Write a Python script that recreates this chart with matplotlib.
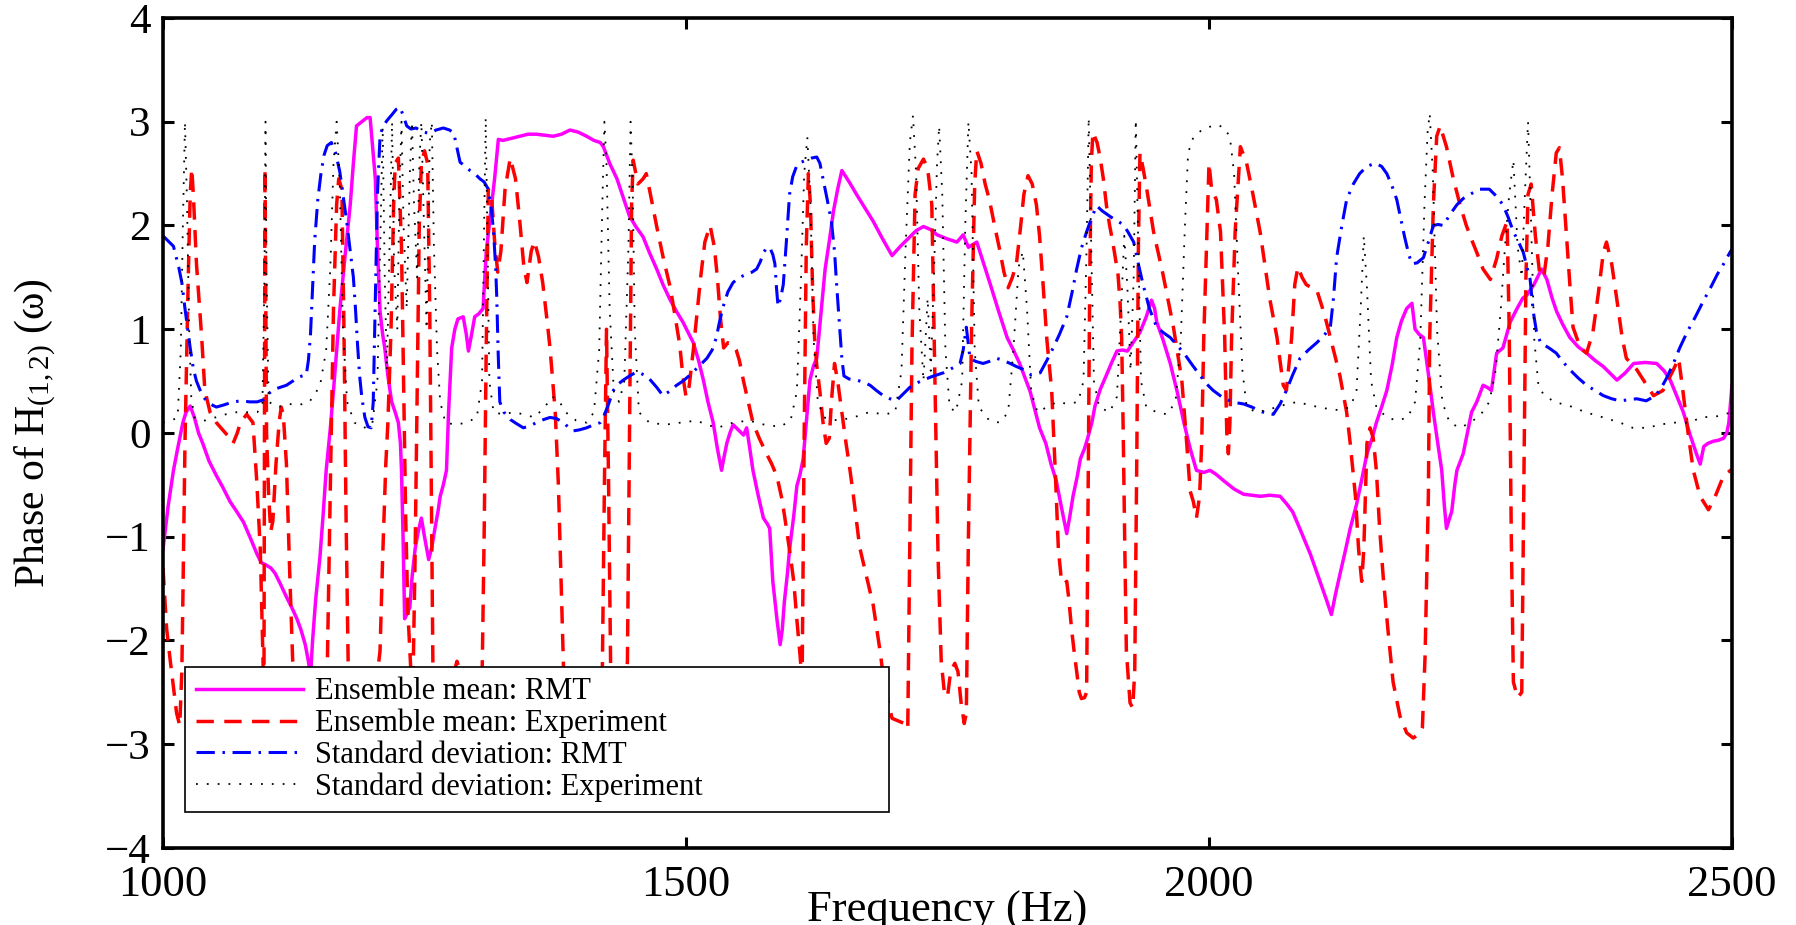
import matplotlib
matplotlib.use("Agg")
import matplotlib.pyplot as plt

# ---------------- data ----------------
mean_rmt_f = [1000,1005,1010,1014,1019,1022,1026,1030,1034,1038,1044,1051,1057,1064,1070,1077,1083,1090,1094,1098,1103,1107,1112,1118,1123,1128,1132,1136,1139,1141,1143,1146,1150,1153,1156,1160,1163,1166,1169,1174,1179,1182,1185,1190,1195,1198,1200,1203,1205,1207.5,1210,1212,1215,1218.6,1222,1225,1227,1228,1229.5,1231,1233,1236,1238,1241,1244,1247,1250,1254,1257,1260,1263,1265,1268,1271,1273,1276,1279,1282,1287,1290,1292,1295,1298,1302,1306,1309,1313,1317,1320.6,1325,1333,1341,1349,1357,1365,1373,1381,1389,1397,1405,1412,1418,1421,1427,1434,1440,1446,1452,1459,1465,1472,1478,1485,1491,1497,1502,1507,1512,1516.6,1521,1526,1530,1534,1536,1539,1542,1545,1550,1555,1558,1561,1564,1569,1574,1578,1580,1583,1587,1590,1592,1594,1597,1599,1603,1606,1609,1612,1615,1618.5,1622,1625,1629,1633,1637,1641,1645,1649,1656,1663,1671,1679,1688,1697,1705,1714,1720,1727,1734,1740,1750,1759,1765,1770,1778,1784,1791,1799,1807,1813,1819,1829,1838,1844,1849,1854,1859,1864,1867,1870,1874,1877,1881,1884,1888,1891,1896,1902,1907,1912,1917,1922,1928,1934,1940,1945,1948,1950,1956,1963,1970,1976,1982,1988,1995,2001,2007,2014,2024,2033,2041,2049,2058,2068,2074,2080,2088,2097,2105,2112,2117,2121,2125,2130,2135,2141,2146,2151,2156,2160,2165,2170,2175,2179.5,2184,2189,2194,2197,2201,2205,2210,2214.5,2218,2222.5,2225,2227,2230,2232,2235,2237,2243,2247,2251,2256,2262,2266,2270,2275,2281,2288,2294.5,2300,2304,2310.6,2318,2323,2328,2332.4,2338,2345,2353,2361,2369,2377,2384,2390,2398,2406,2417,2428,2435,2441,2447,2453.5,2460,2466,2469.6,2473,2477,2482,2487,2492,2495,2497,2500]
mean_rmt_v = [-1.12,-0.7,-0.36,-0.15,0.1,0.2,0.26,0.15,0.0,-0.1,-0.27,-0.41,-0.52,-0.66,-0.75,-0.86,-1.0,-1.17,-1.25,-1.27,-1.3,-1.35,-1.45,-1.58,-1.68,-1.79,-1.9,-2.04,-2.2,-2.35,-2.0,-1.6,-1.2,-0.8,-0.36,0.05,0.41,0.8,1.18,1.7,2.2,2.6,2.96,3.0,3.04,3.04,2.8,2.45,1.8,1.17,0.95,0.82,0.55,0.3,0.2,0.1,-0.1,-0.36,-1.0,-1.79,-1.75,-1.68,-1.4,-1.12,-0.95,-0.82,-1.0,-1.22,-1.1,-0.92,-0.75,-0.61,-0.5,-0.36,0.2,0.82,1.0,1.1,1.12,0.95,0.79,0.95,1.12,1.15,1.2,1.74,2.1,2.45,2.83,2.82,2.84,2.86,2.88,2.88,2.87,2.86,2.88,2.92,2.9,2.86,2.82,2.8,2.76,2.6,2.45,2.27,2.09,1.99,1.89,1.74,1.58,1.43,1.28,1.17,1.07,0.97,0.87,0.7,0.51,0.3,0.1,-0.15,-0.36,-0.25,-0.1,0.0,0.08,0.03,-0.02,0.05,-0.15,-0.36,-0.6,-0.82,-0.88,-0.92,-1.43,-1.8,-2.04,-1.9,-1.63,-1.35,-1.12,-0.8,-0.51,-0.4,-0.25,0.1,0.51,0.65,0.72,1.15,1.58,1.85,2.14,2.35,2.53,2.42,2.3,2.17,2.04,1.87,1.71,1.8,1.89,1.95,1.99,1.96,1.91,1.87,1.84,1.91,1.79,1.84,1.65,1.43,1.17,0.92,0.8,0.67,0.4,0.05,-0.1,-0.3,-0.46,-0.72,-0.97,-0.8,-0.61,-0.42,-0.25,-0.15,-0.05,0.1,0.26,0.42,0.56,0.68,0.79,0.8,0.79,0.88,0.97,1.12,1.28,1.2,1.07,0.9,0.67,0.38,0.1,-0.15,-0.36,-0.38,-0.36,-0.4,-0.46,-0.54,-0.59,-0.6,-0.61,-0.6,-0.61,-0.68,-0.76,-0.95,-1.17,-1.4,-1.6,-1.75,-1.55,-1.37,-1.15,-0.92,-0.69,-0.45,-0.2,-0.05,0.1,0.25,0.41,0.65,0.92,1.08,1.2,1.25,1.0,0.95,0.92,0.55,0.2,-0.05,-0.36,-0.7,-0.92,-0.82,-0.76,-0.5,-0.36,-0.2,0.0,0.2,0.3,0.46,0.44,0.41,0.77,0.82,1.07,1.2,1.3,1.33,1.43,1.58,1.48,1.3,1.17,1.05,0.92,0.83,0.77,0.7,0.64,0.57,0.51,0.58,0.67,0.68,0.67,0.6,0.51,0.36,0.2,-0.02,-0.2,-0.3,-0.13,-0.1,-0.08,-0.07,-0.05,0.0,0.1,0.46]

mean_exp_f = [1000,1003.5,1007,1010,1013,1016,1018,1019,1021,1024,1026,1027.5,1029,1032,1035,1037,1040,1045,1051,1058,1064,1067,1071,1074,1080,1086,1089.6,1093,1095.5,1096.5,1097.5,1099,1101,1103,1105,1108,1111,1113,1115,1118,1121,1124,1128,1135,1145,1153,1157,1160,1163,1166,1168,1171,1173,1175,1177,1181,1190,1198,1204,1207.5,1210,1213,1215,1218,1220.5,1222,1225,1228,1230,1232,1234,1237,1239,1241,1243,1245,1247,1250,1253,1255,1256.5,1258,1262,1270,1276,1281,1286,1292,1300,1305,1307,1309,1311,1314,1317,1320,1323,1327,1332,1337,1341,1345,1348,1352,1355,1359,1363,1367,1370,1375,1378,1381,1383,1390,1400,1410,1417,1420,1422,1424,1426,1428,1434,1441,1444,1446,1448,1449.5,1454,1459,1462,1466,1472,1478,1485,1490,1494,1497,1500,1503,1507,1510,1514,1518,1523,1527,1530,1533,1536,1540,1544,1548,1551,1555,1560,1564,1570,1577,1582,1587,1592,1596,1600,1603,1606,1609,1611,1613,1615,1617,1619,1621,1623,1625,1628,1631,1634,1637,1639,1642,1645,1649,1653,1656,1660,1666,1673,1679,1685.5,1690,1697,1704,1709,1712,1714,1716,1719,1722,1727,1731,1735,1738,1741,1744,1747,1750,1753,1757,1760,1763,1766,1768,1770,1773,1776,1778,1782,1786,1790,1795,1800,1804,1808,1812,1816,1820,1823,1827,1831,1835,1838,1841.6,1845,1849.6,1853,1856,1859,1862,1864,1866,1868.6,1871,1873.5,1876,1878,1881,1883,1884.5,1886,1887.5,1889,1893,1896,1899,1902,1905,1908,1913,1915,1916.5,1918,1919.5,1921,1924.5,1927,1929,1931,1932.5,1934,1937,1940.5,1947,1956,1966,1974,1978.7,1982,1985,1988,1991,1993,1995,1998,2000,2002.5,2007,2011,2013,2015,2017,2018.5,2020,2021.6,2025,2030,2036,2042,2049,2058,2065,2071,2074,2079,2082,2085,2089,2093,2098,2103,2108,2112,2116,2125,2131.6,2135,2140,2143,2146,2148,2151,2154,2157,2160,2163,2166.5,2171,2176,2182.6,2189,2195.3,2202,2204,2206.6,2209.7,2211,2214.5,2217.7,2221,2227,2233.6,2240,2246,2252,2256,2262,2269,2275,2280,2285,2287,2289,2291,2295,2299,2301,2303,2305,2308,2312,2316,2320,2324,2328,2332,2335,2338,2341.5,2345,2348,2355,2361,2367,2372,2377,2380,2385,2390,2395,2399,2409,2418.5,2425,2434,2444,2449,2453,2458,2463,2469.5,2477.5,2484,2492,2500]
mean_exp_v = [-1.3,-1.89,-2.2,-2.45,-2.7,-2.82,-2.3,-1.6,-0.1,1.43,2.3,2.55,2.3,1.63,1.2,0.92,0.41,0.2,0.1,0.02,-0.05,-0.1,0.0,0.1,0.18,0.1,-0.46,-1.12,-2.14,-2.6,2.55,0.0,-0.6,-0.95,-0.85,-0.3,0.1,0.25,0.18,-0.3,-1.3,-2.2,-2.8,-3.0,-2.9,-2.7,-2.3,-0.5,1.2,2.2,2.45,2.35,1.0,-0.8,-2.2,-2.7,-2.9,-2.7,-2.4,-2.1,-1.2,-0.3,0.1,1.0,2.2,2.6,2.65,1.8,0.5,-0.8,-1.7,-2.3,-2.4,-1.2,0.4,2.0,2.6,2.72,2.6,1.2,-0.5,-2.2,-2.7,-2.6,-2.4,-2.2,-2.35,-2.7,-2.7,-2.4,-1.0,0.8,2.35,2.3,1.85,1.55,1.75,2.35,2.65,2.45,2.05,1.6,1.45,1.75,1.85,1.7,1.45,1.1,0.82,0.2,-0.5,-1.6,-2.3,-2.9,-3.05,-2.95,-2.6,-2.3,-0.5,1.0,-0.5,-2.3,-2.8,-2.6,-2.2,0.0,2.2,2.63,2.4,2.45,2.5,2.3,1.99,1.7,1.4,1.1,0.85,0.55,0.35,0.45,0.8,1.1,1.5,1.84,2.0,1.8,1.5,1.1,0.82,0.87,0.86,0.8,0.7,0.5,0.28,0.1,-0.05,-0.2,-0.3,-0.42,-0.65,-0.92,-1.2,-1.43,-1.8,-2.14,-2.4,0.0,1.8,2.5,2.2,1.4,0.9,0.65,0.4,0.1,-0.1,-0.05,0.3,0.67,0.5,0.2,-0.1,-0.3,-0.6,-1.1,-1.4,-1.66,-2.1,-2.45,-2.75,-2.78,-2.8,-2.85,-1.0,0.8,2.3,2.55,2.64,2.55,2.2,0.5,-1.2,-2.2,-2.5,-2.54,-2.3,-2.22,-2.3,-2.6,-2.8,-2.7,-1.0,1.0,2.4,2.72,2.6,2.4,2.25,2.0,1.76,1.55,1.4,1.5,1.64,2.0,2.3,2.48,2.4,2.2,1.9,1.4,0.9,0.41,-0.36,-1.12,-1.43,-1.45,-1.43,-1.6,-1.89,-2.1,-2.3,-2.5,-2.56,-2.55,-2.5,-0.5,1.5,2.6,2.9,2.8,2.65,2.45,2.19,2.0,1.84,1.53,1.25,0.92,0.0,-1.1,-2.1,-2.6,-2.65,-2.3,-0.2,1.8,2.7,2.55,2.35,1.94,1.53,1.02,0.51,-0.1,-0.56,-0.66,-0.82,-0.61,-0.1,0.92,1.94,2.6,2.35,2.25,1.94,1.43,0.92,0.0,-0.2,0.1,0.92,1.94,2.76,2.6,2.3,1.93,1.3,0.92,0.46,0.41,0.92,1.43,1.6,1.5,1.43,1.4,1.38,1.22,1.08,0.92,0.56,0.2,-0.1,-0.61,-1.12,-1.43,-1.12,-0.1,0.05,-0.05,-0.36,-0.9,-1.38,-1.89,-2.4,-2.73,-2.89,-2.94,-2.89,-2.84,-2.14,-0.61,0.92,2.2,2.86,2.96,2.76,2.45,2.2,2.0,1.84,1.74,1.58,1.48,1.68,1.9,2.04,1.0,-1.0,-2.4,-2.55,-2.5,-0.5,1.5,2.3,2.4,1.9,1.55,1.5,1.8,2.3,2.7,2.75,2.45,1.94,1.43,1.02,0.82,0.77,0.97,1.33,1.74,1.84,1.63,1.28,0.92,0.72,0.61,0.46,0.36,0.41,0.61,0.72,0.41,0.0,-0.36,-0.61,-0.74,-0.61,-0.41,-0.35]

std_rmt_f = [1000,1005,1010,1015,1018,1021,1023,1026,1029,1032,1036,1040,1045,1051,1058,1067,1075,1083,1090,1096,1101,1106,1112,1118,1124,1128,1133,1137,1139,1141,1143,1145,1148,1151,1154,1157,1161,1165,1169,1172,1175.6,1179,1182,1184,1186,1188,1190,1193,1196,1199,1201,1203,1205,1207.5,1210,1214,1219,1223,1226.6,1230,1233,1237,1242,1248,1255,1261,1268,1274,1278,1281,1284,1289,1293.5,1298,1303,1307,1311,1314,1316,1318,1319,1320.5,1322,1326,1332,1338,1344.5,1351,1357,1364,1370,1376,1383,1388,1392,1398,1405,1412,1418,1421,1426,1430.5,1435,1440,1446,1453,1460,1466,1472,1478,1484,1491,1497,1504,1512,1520,1525,1529,1532,1535.6,1540,1545,1551,1558,1563,1567.5,1571,1574,1577,1580,1583,1585,1586.5,1588,1590.5,1593,1596,1599,1602,1606,1610,1615,1620,1625,1628,1631,1635,1639,1642,1644,1647,1649,1651,1656,1663,1670,1676,1682,1688.6,1695,1701,1707,1714,1720,1727,1734,1740,1746,1752,1757,1762,1765,1768,1770,1771.5,1777,1784,1790,1797,1803,1810,1816,1823,1830,1838.6,1845,1851,1857,1864,1869,1873.5,1878,1883,1888,1892.6,1898,1905,1911,1918,1923,1928,1932,1937,1943,1950,1956,1963,1970,1976,1983,1991,1997,2004,2012,2020,2027,2033,2041,2049,2055,2061.5,2068,2074,2080,2087,2095,2103,2110,2116,2119,2122,2127,2131.6,2138,2144,2151,2159,2165,2170,2175,2179.5,2183,2187,2191,2194,2199,2205,2210,2214.5,2219,2224,2230,2237,2243,2249.5,2255,2259,2268,2275,2281,2286,2291,2296,2300.5,2304,2307,2310,2313,2317,2325,2332,2338,2345,2353,2361,2369,2377,2385,2393,2401,2409,2418,2425,2431,2437,2444,2450,2457,2465,2473,2480,2486,2492,2498,2500]
std_rmt_v = [1.9,1.85,1.8,1.6,1.45,1.2,1.05,0.82,0.62,0.5,0.4,0.33,0.28,0.25,0.27,0.3,0.31,0.3,0.3,0.32,0.38,0.42,0.44,0.46,0.5,0.53,0.55,0.56,0.7,0.95,1.4,1.85,2.25,2.5,2.68,2.77,2.8,2.7,2.52,2.3,2.04,1.75,1.5,1.2,0.85,0.55,0.35,0.15,0.06,0.05,0.3,1.3,2.3,2.86,2.95,3.01,3.07,3.12,3.14,3.05,2.96,2.93,2.94,2.9,2.89,2.92,2.94,2.92,2.89,2.75,2.61,2.57,2.53,2.5,2.45,2.42,2.35,2.15,1.94,1.6,1.33,0.75,0.3,0.2,0.13,0.09,0.05,0.07,0.1,0.13,0.15,0.14,0.1,0.05,0.02,0.03,0.05,0.08,0.1,0.15,0.28,0.41,0.47,0.51,0.55,0.59,0.56,0.51,0.44,0.36,0.4,0.46,0.5,0.56,0.64,0.72,0.8,0.92,1.07,1.22,1.36,1.45,1.5,1.53,1.55,1.58,1.65,1.74,1.78,1.79,1.72,1.63,1.4,1.22,1.3,1.43,1.85,2.3,2.47,2.58,2.61,2.63,2.65,2.66,2.6,2.45,2.25,2.04,1.75,1.43,1.0,0.72,0.55,0.52,0.51,0.49,0.46,0.41,0.36,0.33,0.31,0.37,0.44,0.48,0.51,0.54,0.56,0.58,0.61,0.64,0.67,0.8,1.02,0.85,0.72,0.69,0.67,0.69,0.72,0.7,0.67,0.64,0.61,0.56,0.58,0.7,0.82,0.95,1.12,1.35,1.58,1.78,1.94,2.08,2.19,2.14,2.09,2.05,2.01,1.93,1.84,1.65,1.43,1.2,1.02,0.97,0.92,0.84,0.77,0.67,0.56,0.48,0.41,0.35,0.31,0.29,0.28,0.25,0.21,0.19,0.18,0.28,0.41,0.56,0.72,0.8,0.87,0.94,1.02,1.3,1.69,2.0,2.25,2.4,2.5,2.57,2.6,2.57,2.5,2.38,2.25,2.08,1.89,1.72,1.63,1.64,1.69,1.85,2.0,2.01,2.0,2.1,2.2,2.26,2.3,2.33,2.35,2.35,2.28,2.2,2.08,1.94,1.84,1.74,1.6,1.48,1.17,0.98,0.87,0.82,0.77,0.69,0.61,0.53,0.46,0.41,0.36,0.33,0.31,0.32,0.33,0.31,0.35,0.41,0.52,0.67,0.82,0.97,1.12,1.28,1.41,1.53,1.63,1.74,1.77]

std_exp_f = [1000,1008,1014,1017,1019,1021,1023,1025,1027,1030,1040,1050,1060,1070,1080,1090,1095,1097,1098,1099,1101,1110,1120,1130,1140,1150,1156,1160,1163,1166,1169,1172,1176,1183,1192,1200,1205,1208,1210,1212,1214,1217,1219,1221,1224,1226,1228,1230,1233,1236,1238,1240,1243,1245,1247,1249,1252,1255,1257,1259,1262,1265,1270,1280,1290,1300,1305,1307,1308.5,1310,1312,1316,1325,1335,1345,1355,1365,1372,1378,1385,1395,1405,1412,1417,1420,1422,1424,1427,1431,1436,1441,1445,1447,1449,1451,1455,1465,1480,1495,1510,1520,1530,1545,1560,1575,1590,1600,1606,1610,1613,1616,1619,1622,1626,1632,1645,1660,1675,1690,1700,1706,1710,1714,1717,1720,1723,1727,1731,1734,1737,1740,1742,1745,1748,1752,1758,1764,1767,1770,1773,1776,1780,1790,1800,1808,1813,1818,1822,1826,1830,1836,1845,1855,1865,1875,1880,1883,1885,1887,1890,1895,1905,1912,1916,1919,1922,1925,1928,1930,1932,1935,1940,1950,1960,1968,1973,1977,1980,1985,1993,2000,2008,2015,2020,2024,2028,2032,2036,2045,2055,2065,2075,2085,2095,2105,2115,2125,2135,2141,2145,2148,2151,2155,2160,2170,2180,2190,2197,2202,2206,2209,2211,2214,2218,2223,2230,2240,2250,2260,2268,2274,2279,2283,2287,2291,2295,2299,2302,2305,2308,2311,2315,2320,2330,2345,2360,2377,2393,2405,2420,2430,2445,2460,2470,2485,2500]
std_exp_v = [0.1,0.12,0.15,0.8,2.0,3.0,2.2,1.0,0.35,0.15,0.12,0.15,0.18,0.2,0.2,0.2,0.25,1.5,3.0,1.5,0.3,0.25,0.28,0.27,0.3,0.45,0.8,1.6,2.6,3.0,2.4,1.0,0.3,0.1,0.05,0.08,0.5,2.0,2.95,1.5,0.6,2.0,3.0,1.6,1.0,2.3,3.0,2.0,1.2,2.5,3.0,2.2,1.5,2.6,3.0,2.2,1.0,2.8,3.0,1.8,0.8,0.3,0.1,0.08,0.1,0.15,0.5,2.0,3.04,2.0,0.5,0.2,0.18,0.2,0.18,0.15,0.25,0.35,0.32,0.2,0.12,0.1,0.2,0.8,2.2,3.0,2.6,1.2,0.4,0.3,0.5,1.8,3.0,2.4,1.0,0.2,0.1,0.08,0.1,0.12,0.08,0.05,0.1,0.12,0.08,0.06,0.12,0.4,1.5,2.5,2.85,2.2,0.9,0.3,0.15,0.12,0.15,0.2,0.18,0.2,0.6,1.8,2.8,3.06,2.5,1.2,0.5,1.3,0.6,1.5,2.6,2.96,2.3,0.8,0.25,0.2,0.5,2.0,3.0,2.5,0.8,0.25,0.12,0.1,0.2,0.8,1.6,1.75,1.2,0.4,0.2,0.25,0.3,0.28,0.3,0.5,1.8,3.04,2.0,0.5,0.25,0.2,0.35,1.2,1.9,1.4,0.6,1.5,3.02,2.0,0.5,0.25,0.2,0.18,0.3,0.9,2.0,2.7,2.85,2.92,2.95,2.97,2.94,2.85,2.5,1.5,0.6,0.25,0.2,0.22,0.25,0.28,0.3,0.27,0.25,0.23,0.22,0.25,0.4,1.2,1.9,1.4,0.5,0.25,0.15,0.12,0.15,0.3,0.9,2.2,2.9,3.08,2.5,1.0,0.3,0.1,0.05,0.1,0.18,0.3,0.6,1.2,1.8,2.3,2.63,1.8,1.5,2.3,3.0,2.0,0.9,0.45,0.37,0.3,0.26,0.2,0.15,0.1,0.05,0.05,0.08,0.1,0.1,0.15,0.16,0.2]

legend_labels = ["Ensemble mean: RMT", "Ensemble mean: Experiment",
                 "Standard deviation: RMT", "Standard deviation: Experiment"]
x_ticks = [1000, 1500, 2000, 2500]
y_ticks = [-4, -3, -2, -1, 0, 1, 2, 3, 4]

# ---------------- figure ----------------
plt.rcParams['font.family'] = ['Liberation Serif', 'DejaVu Serif']
plt.rcParams['mathtext.fontset'] = 'custom'
plt.rcParams['mathtext.rm'] = 'Liberation Serif'
plt.rcParams['mathtext.it'] = 'Liberation Serif:italic'

fig = plt.figure(figsize=(17.96, 9.25), dpi=100)
ax = fig.add_axes([163/1796, 1-848/925, (1732-163)/1796, (848-18)/925])

ax.plot(mean_rmt_f, mean_rmt_v, color='#FF00FF', lw=2.5, ls='-', label=legend_labels[0])
ax.plot(mean_exp_f, mean_exp_v, color='#FF0000', lw=2.5, ls=(0, (5, 3)), label=legend_labels[1])
ax.plot(std_rmt_f, std_rmt_v, color='#0000FF', lw=2.2, ls=(0, (6, 2.5, 0.8, 2.5)), label=legend_labels[2])
ax.plot(std_exp_f, std_exp_v, color='black', lw=1.3, ls=(0, (1, 5)), label=legend_labels[3])

ax.set_xlim(1000, 2500)
ax.set_ylim(-4, 4)
ax.set_xticks(x_ticks)
ax.set_yticks(y_ticks)
ax.tick_params(direction='in', length=8, width=2.2, top=True, right=True)
ax.tick_params(axis='x', pad=12, labelsize=32)
ax.tick_params(axis='y', pad=9, labelsize=31)
for s in ax.spines.values():
    s.set_linewidth(2.6)

ax.set_xlabel("Frequency (Hz)", fontsize=32)
ax.xaxis.label.set_verticalalignment('baseline')
ax.xaxis.set_label_coords(0.5, -(922-848)/830)
ax.set_ylabel("Phase of H$_{(1,2)}$ (ω)", fontsize=30)
ax.yaxis.set_label_coords(-(163-58)/1569, 0.5)

leg = ax.legend(loc='upper left', bbox_to_anchor=(0.014, 0.0494, 0.449, 0.169),
                mode='expand', borderaxespad=0, fontsize=22, handlelength=3.5,
                handletextpad=0.4, labelspacing=0.08, borderpad=0.35,
                fancybox=False, framealpha=1, edgecolor='black')
leg.get_frame().set_linewidth(1.2)

fig.savefig('out.png', dpi=100)
